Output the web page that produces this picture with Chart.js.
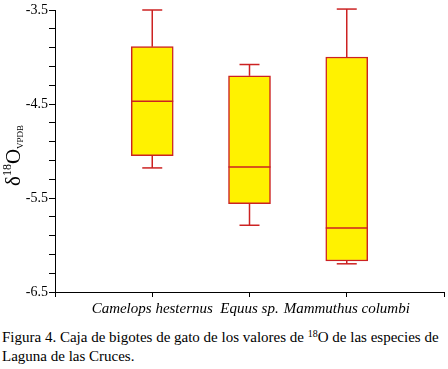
<!DOCTYPE html>
<html>
<head>
<meta charset="utf-8">
<script src="https://cdn.jsdelivr.net/npm/chart.js@4"></script>
<style>
  body { margin: 0; background: #fff; }
  #wrap { position: relative; width: 448px; height: 369px; }
  #caption {
    position: absolute; left: 2px; top: 328px;
    font: 15px "Liberation Serif", serif; line-height: 19px;
    white-space: nowrap; color: #000;
  }
  #caption sup { font-size: 10px; vertical-align: 5px; line-height: 0; }
</style>
</head>
<body>
<div id="wrap">
  <canvas id="chart" width="448" height="322"></canvas>
  <div id="caption">Figura 4. Caja de bigotes de gato de los valores de <sup>18</sup>O de las especies de<br>Laguna de las Cruces.</div>
</div>
<script>
// box plot values (delta 18O VPDB)
const categories = ['Camelops hesternus', 'Equus sp.', 'Mammuthus columbi'];
const whiskerLow = [-5.18, -5.79, -6.20];
const q1 = [-5.05, -5.56, -6.17];
const median = [-4.47, -5.17, -5.82];
const q3 = [-3.89, -4.20, -4.00];
const whiskerHigh = [-3.50, -4.08, -3.49];
const yMajorTicks = [-6.5, -5.5, -4.5, -3.5];

const red = '#cc2222';
const yellow = '#fff200';
const serif = '"Liberation Serif", "Times New Roman", serif';

// whiskers, caps and medians drawn from the arrays above
const boxPlotLines = {
    id: 'boxPlotLines',
    afterDatasetsDraw(chart) {
        const ctx = chart.ctx;
        const x = chart.scales.x, y = chart.scales.y;
        ctx.save();
        ctx.strokeStyle = red;
        ctx.lineWidth = 1.5;
        categories.forEach((c, i) => {
            const px = x.getPixelForValue(i + 1);
            const seg = (x1, y1, x2, y2) => {
                ctx.beginPath();
                ctx.moveTo(x1, y1);
                ctx.lineTo(x2, y2);
                ctx.stroke();
            };
            seg(px, y.getPixelForValue(q3[i]), px, y.getPixelForValue(whiskerHigh[i]));
            seg(px, y.getPixelForValue(q1[i]), px, y.getPixelForValue(whiskerLow[i]));
            seg(px - 10, y.getPixelForValue(whiskerHigh[i]), px + 10, y.getPixelForValue(whiskerHigh[i]));
            seg(px - 10, y.getPixelForValue(whiskerLow[i]), px + 10, y.getPixelForValue(whiskerLow[i]));
            seg(px - 21, y.getPixelForValue(median[i]), px + 21, y.getPixelForValue(median[i]));
        });
        ctx.restore();

        // y axis title: delta 18O with VPDB subscript, rotated
        ctx.save();
        ctx.translate(20, 186);
        ctx.rotate(-Math.PI / 2);
        ctx.fillStyle = '#000';
        ctx.textBaseline = 'alphabetic';
        let cx = 0;
        ctx.font = '21px ' + serif;
        ctx.fillText('δ', cx, 0);
        cx += ctx.measureText('δ').width;
        ctx.font = '12px ' + serif;
        ctx.fillText('18', cx, -9);
        cx += ctx.measureText('18').width;
        ctx.font = '21px ' + serif;
        ctx.fillText('O', cx, 0);
        cx += ctx.measureText('O').width;
        ctx.font = '9px ' + serif;
        ctx.fillText('VPDB', cx, 3);
        ctx.restore();
    }
};

new Chart(document.getElementById('chart'), {
    type: 'bar',
    data: {
        datasets: [{
            data: categories.map((c, i) => ({ x: i + 1, y: [q1[i], q3[i]] })),
            backgroundColor: yellow,
            borderColor: red,
            borderWidth: 1.5,
            borderSkipped: false,
            barThickness: 42
        }]
    },
    options: {
        responsive: false,
        animation: false,
        layout: { padding: { top: 10, right: 4, left: 0, bottom: 0 } },
        plugins: { legend: { display: false }, tooltip: { enabled: false } },
        scales: {
            x: {
                type: 'linear',
                offset: false,
                min: 0, max: 4,
                afterBuildTicks: (s) => { s.ticks = [0, 1, 2, 3, 4].map(v => ({ value: v })); },
                afterFit: (s) => { s.height = 30; },
                grid: { drawOnChartArea: false, color: '#000', tickLength: 5, offset: false },
                border: { color: '#000', width: 1 },
                ticks: {
                    autoSkip: false, maxRotation: 0, padding: 3, color: '#000',
                    font: { family: serif, size: 15, style: 'italic' },
                    callback: (v) => categories[v - 1] || ''
                }
            },
            y: {
                min: -6.5, max: -3.5,
                afterBuildTicks: (s) => {
                    const t = [];
                    for (let k = 0; k <= 15; k++) t.push({ value: -6.5 + k * 0.2 });
                    s.ticks = t;
                },
                afterFit: (s) => { s.width = 55; },
                grid: { drawOnChartArea: false, color: '#000', tickLength: 6 },
                border: { color: '#000', width: 1 },
                ticks: {
                    autoSkip: false, padding: 1, color: '#000',
                    font: { family: serif, size: 14 },
                    callback: (v) => yMajorTicks.some(m => Math.abs(m - v) < 1e-6) ? String(Math.round(v * 10) / 10) : ''
                }
            }
        }
    },
    plugins: [boxPlotLines]
});
</script>
</body>
</html>
